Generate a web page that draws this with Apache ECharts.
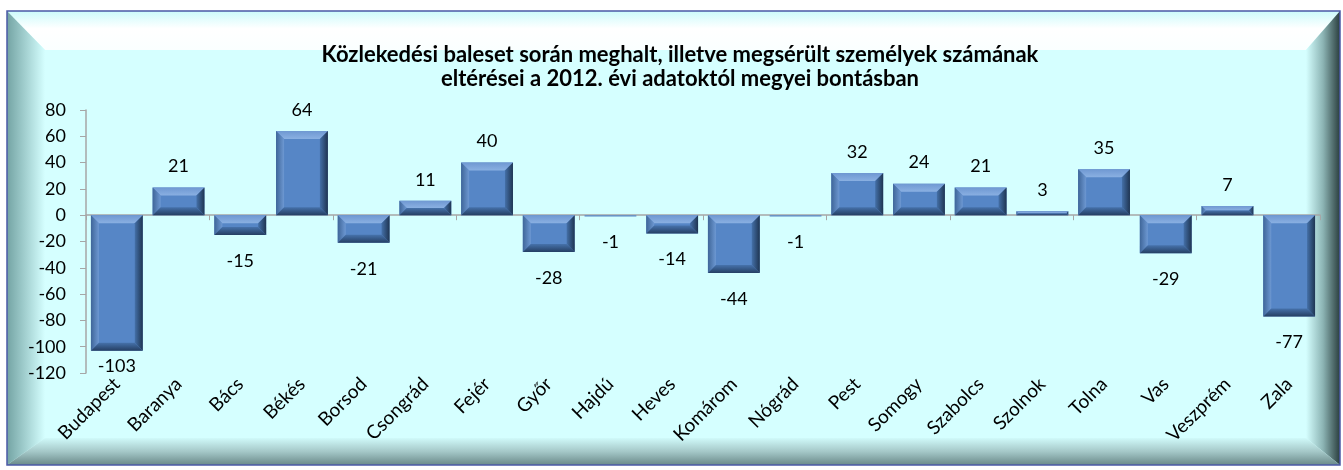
<!DOCTYPE html>
<html>
<head>
<meta charset="utf-8">
<script src="https://cdn.jsdelivr.net/npm/echarts@6/dist/echarts.min.js"></script>
<style>
  html, body { margin: 0; padding: 0; background: #fff; }
  #chart { width: 1343px; height: 470px; }
</style>
</head>
<body>
<div id="chart"></div>
<script>
const counties = ['Budapest', 'Baranya', 'Bács', 'Békés', 'Borsod', 'Csongrád', 'Fejér', 'Győr', 'Hajdú', 'Heves',
  'Komárom', 'Nógrád', 'Pest', 'Somogy', 'Szabolcs', 'Szolnok', 'Tolna', 'Vas', 'Veszprém', 'Zala']
const changes = [-103, 21, -15, 64, -21, 11, 40, -28, -1, -14, -44, -1, 32, 24, 21, 3, 35, -29, 7, -77]
const titleLines = ['Közlekedési baleset során meghalt, illetve megsérült személyek számának',
  'eltérései a 2012. évi adatoktól megyei bontásban']

const FONT = 'Lato, "Open Sans", sans-serif'
const BAR_RATIO = 0.84

const chart = echarts.init(document.getElementById('chart'))

// keret (Excel-szerű domború szegély)
const X0 = 7, Y0 = 11, X1 = 1340, Y1 = 465
const IX0 = 45, IY0 = 50, IX1 = 1306, IY1 = 438
const lin = (x, y, x2, y2, stops) => ({
  type: 'linear', x, y, x2, y2,
  colorStops: stops.map(([o, c]) => ({ offset: o, color: c }))
})
const frame = [
  { type: 'rect', shape: { x: X0, y: Y0, width: X1 - X0, height: Y1 - Y0 }, style: { fill: '#D5FFFF' }, z: -10 },
  { type: 'polygon', shape: { points: [[X0, Y0], [X1, Y0], [IX1, IY0], [IX0, IY0]] },
    style: { fill: lin(0, 0, 0, 1, [[0, '#CCFBFB'], [0.45, '#FFFFFF'], [1, '#FAFFFF']]) }, z: -9 },
  { type: 'polygon', shape: { points: [[X0, Y0], [IX0, IY0], [IX0, IY1], [X0, Y1]] },
    style: { fill: lin(0, 0, 1, 0, [[0, '#74A4A4'], [1, '#D5FFFF']]) }, z: -9 },
  { type: 'polygon', shape: { points: [[X1, Y0], [X1, Y1], [IX1, IY1], [IX1, IY0]] },
    style: { fill: lin(0, 0, 1, 0, [[0, '#D5FFFF'], [0.5, '#8CB4B4'], [1, '#2A3E3E']]) }, z: -9 },
  { type: 'polygon', shape: { points: [[X0, Y1], [X1, Y1], [IX1, IY1], [IX0, IY1]] },
    style: { fill: lin(0, 0, 0, 1, [[0, '#D0FAFA'], [0.5, '#A5C8C8'], [1, '#6A8A8A']]) }, z: -9 },
  { type: 'rect', shape: { x: X0, y: Y0, width: X1 - X0, height: Y1 - Y0 },
    style: { fill: null, stroke: '#4B5AA6', lineWidth: 1.5 }, z: -8 }
]

// oszlopok domború éle
function bevel (params, api) {
  const i = api.value(0)
  const v = api.value(1)
  const p0 = api.coord([i, 0])
  const p1 = api.coord([i, v])
  const w = api.size([1, 0])[0] * BAR_RATIO
  const l = p0[0] - w / 2
  const r = p0[0] + w / 2
  const t = Math.min(p0[1], p1[1])
  const b = Math.max(p0[1], p1[1])
  if (b - t < 2) return null
  const e = Math.min(8, (b - t) / 2)
  return {
    type: 'group',
    children: [
      { type: 'polygon', shape: { points: [[l, t], [r, t], [r - e, t + e], [l + e, t + e]] },
        style: { fill: lin(0, 0, 0, 1, [[0, '#6F98D2'], [1, '#8AB0E2']]) } },
      { type: 'polygon', shape: { points: [[l, t], [l + e, t + e], [l + e, b - e], [l, b]] },
        style: { fill: lin(0, 0, 1, 0, [[0, '#3F6699'], [1, '#6D98D2']]) } },
      { type: 'polygon', shape: { points: [[r, t], [r, b], [r - e, b - e], [r - e, t + e]] },
        style: { fill: lin(0, 0, 1, 0, [[0, '#4470A8'], [1, '#1F3552']]) } },
      { type: 'polygon', shape: { points: [[l, b], [r, b], [r - e, b - e], [l + e, b - e]] },
        style: { fill: lin(0, 0, 0, 1, [[0, '#4672AB'], [1, '#253F63']]) } }
    ]
  }
}

const option = {
  backgroundColor: '#ffffff',
  animation: false,
  textStyle: { fontFamily: FONT },
  graphic: frame,
  title: {
    text: titleLines.join('\n'),
    left: 675,
    textAlign: 'center',
    top: 38,
    textStyle: { fontFamily: FONT, fontSize: 22, fontWeight: 'bold', color: '#000', lineHeight: 24 }
  },
  grid: { left: 86, right: 23, top: 110, bottom: 97 },
  xAxis: [
    {
      type: 'category',
      data: counties,
      axisLine: { onZero: true, lineStyle: { color: '#A6A6A6', width: 1.5 } },
      axisTick: { show: true, length: 5, lineStyle: { color: '#A6A6A6' } },
      axisLabel: { show: false }
    },
    {
      type: 'category',
      data: counties,
      position: 'bottom',
      axisLine: { show: false, onZero: false },
      axisTick: { show: false },
      axisLabel: { rotate: 45, margin: 8, fontSize: 19, color: '#000', fontFamily: FONT }
    }
  ],
  yAxis: {
    type: 'value',
    min: -120,
    max: 80,
    interval: 20,
    splitLine: { show: false },
    axisLine: { show: true, lineStyle: { color: '#A6A6A6', width: 1.5 } },
    axisTick: { show: true, length: 6, lineStyle: { color: '#A6A6A6' } },
    axisLabel: { fontSize: 18, color: '#000', margin: 20, fontFamily: FONT }
  },
  series: [
    {
      type: 'bar',
      barWidth: (BAR_RATIO * 100) + '%',
      data: changes.map(v => ({
        value: v,
        label: { position: v >= 0 ? 'top' : 'bottom', distance: v >= 0 ? 12 : 17 }
      })),
      itemStyle: { color: '#5686C6' },
      label: { show: true, fontSize: 18, color: '#000', fontFamily: FONT },
      // a rajzterület alján ne lógjon ki a felirat
      labelLayout: function (p) {
        const r = p.labelRect
        if (r.y > 357) return { x: r.x, y: 357, align: 'left', verticalAlign: 'top' }
        return {}
      },
      z: 2
    },
    {
      type: 'custom',
      data: changes.map((v, i) => [i, v]),
      renderItem: bevel,
      silent: true,
      z: 3
    }
  ]
}

chart.setOption(option)
</script>
</body>
</html>
